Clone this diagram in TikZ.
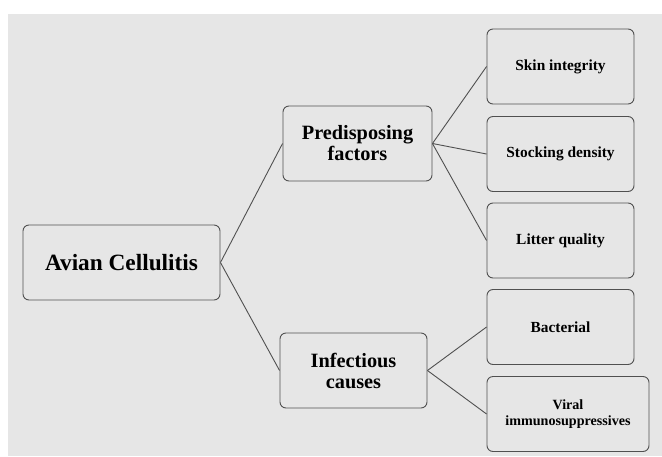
\documentclass[tikz,border=0pt]{standalone}
\usepackage{fontspec}
\setmainfont{Liberation Serif}
\usepackage{tikz}
\definecolor{bggrey}{HTML}{E6E6E6}
\definecolor{edgegrey}{HTML}{505050}

\begin{document}
\begin{tikzpicture}[x=1pt,y=-1pt,
        box/.style={shape=rectangle,rounded corners=6pt,draw=edgegrey,line width=0.9pt,fill=bggrey,align=center,inner sep=2pt,minimum width=147pt,minimum height=75pt},
        bigtext/.style={font=\bfseries\fontsize{20.3}{21}\selectfont},
        smalltext/.style={font=\bfseries\fontsize{15.4}{16}\selectfont},
        link/.style={line width=0.9pt,draw=edgegrey}]
        \useasboundingbox (0,0) rectangle (662,456);
        \fill[bggrey] (8,14) rectangle (662,456);
        \node[box,minimum width=197pt,font=\bfseries\fontsize{23.3}{24}\selectfont] (AC) at (121.5,262.5) {Avian Cellulitis};
        \node[box,minimum width=149pt,bigtext] (PF) at (357.5,143.5) {Predisposing\\factors};
        \node[box,bigtext] (IC) at (353.5,370.5) {Infectious\\causes};
        \node[box,smalltext] (SI) at (560.5,66.5) {Skin integrity};
        \node[box,smalltext] (SD) at (560.5,154) {Stocking density};
        \node[box,smalltext] (LQ) at (560.5,240.5) {Litter quality};
        \node[box,smalltext] (BA) at (560.5,327) {Bacterial};
        \node[box,minimum width=162pt,font=\bfseries\fontsize{14.1}{16}\selectfont] (VI) at (568,414) {Viral\\immunosuppressives};
        \path [link] (AC.east) edge (PF.west);
        \path [link] (AC.east) edge (IC.west);
        \path [link] (PF.east) edge (SI.west);
        \path [link] (PF.east) edge (SD.west);
        \path [link] (PF.east) edge (LQ.west);
        \path [link] (IC.east) edge (BA.west);
        \path [link] (IC.east) edge (VI.west);
    \end{tikzpicture}
\end{document}
